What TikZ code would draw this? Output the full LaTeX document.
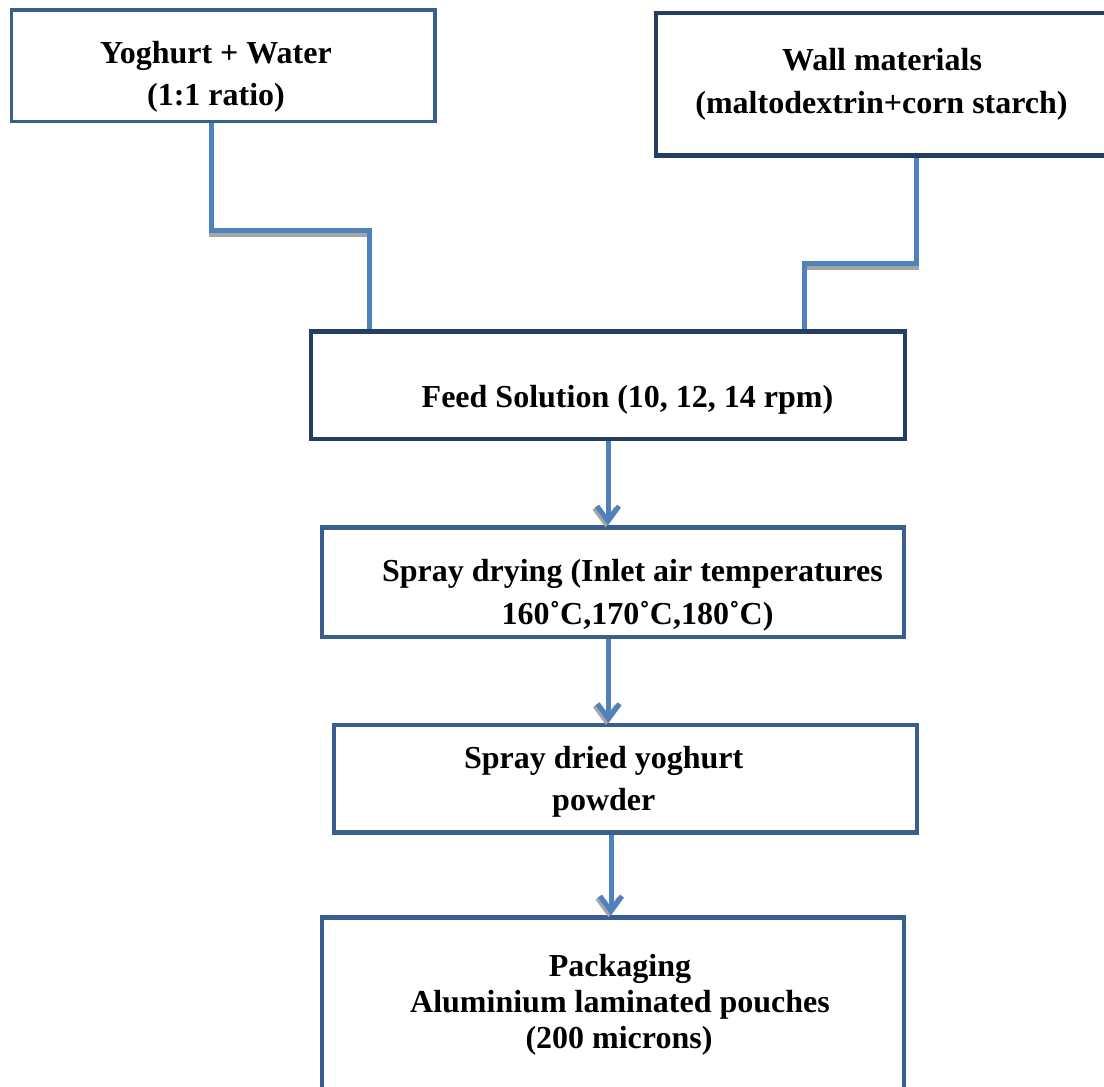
\documentclass[tikz,border=0pt]{standalone}
\usepackage{fontspec}
\setmainfont{Liberation Serif}
\usetikzlibrary{arrows.meta}
\definecolor{boxblue}{HTML}{3A5F8F}
\definecolor{navyblue}{HTML}{243F63}
\definecolor{linkblue}{HTML}{4F81BD}
\definecolor{shade}{HTML}{A5A5A5}
\begin{document}
\begin{tikzpicture}[x=1pt,y=-1pt,
  boxnode/.style={draw, rectangle, inner sep=0pt},
  txt/.style={anchor=base, inner sep=0pt, font=\bfseries\fontsize{32}{38}\selectfont},
  link/.style={draw=linkblue, line width=5pt},
  shadowline/.style={draw=shade, line width=4.3pt},
  arr/.style={link, -{Straight Barb[length=15pt,width=22pt]}},
  shadowarr/.style={draw=shade, line width=5pt, -{Straight Barb[length=15pt,width=22pt]}}]
\useasboundingbox (0,0) rectangle (1104,1087);
\clip (0,0) rectangle (1104,1087);
\fill[white] (0,0) rectangle (1104,1087);

% boxes
\node[boxnode, draw=boxblue, line width=3.3pt, minimum width=423.3pt, minimum height=111.7pt] (yw) at (223.3,65.8) {};
\node[boxnode, draw=navyblue, line width=4.8pt, minimum width=456pt, minimum height=142.5pt] (wall) at (884,84.25) {};
\node[boxnode, draw=navyblue, line width=4.6pt, minimum width=594.2pt, minimum height=107.3pt] (feed) at (607.9,385.3) {};
\node[boxnode, draw=boxblue, line width=4.4pt, minimum width=582.4pt, minimum height=109.3pt] (spray) at (613,582.2) {};
\node[boxnode, draw=boxblue, line width=4.4pt, minimum width=582.6pt, minimum height=107.3pt] (powder) at (625.5,778.8) {};
\node[boxnode, draw=boxblue, line width=4.4pt, minimum width=582.2pt, minimum height=182.5pt] (pack) at (613.1,1008.75) {};

% texts
\node[txt] (yw1) at (216,63.3) {Yoghurt + Water};
\node[txt] (yw2) at (216,105) {(1:1 ratio)};
\node[txt] (wall1) at (882,70.7) {Wall materials};
\node[txt] (wall2) at (881.5,113.3) {(maltodextrin+corn starch)};
\node[txt] (feed1) at (627.5,407.3) {Feed Solution (10, 12, 14 rpm)};
\node[txt] (spray1) at (632.4,581.7) {Spray drying (Inlet air temperatures};
\node[txt] (spray2) at (637.5,624) {160˚C,170˚C,180˚C)};
\node[txt] (powder1) at (603.7,768.3) {Spray dried yoghurt};
\node[txt] (powder2) at (603.8,810) {powder};
\node[txt] (pack1) at (620,976.7) {Packaging};
\node[txt] (pack2) at (620,1012.7) {Aluminium laminated pouches};
\node[txt] (pack3) at (619,1048.3) {(200 microns)};

% elbow connectors
\coordinate (c1a) at (211,230);
\coordinate (c1b) at (369,230);
\coordinate (c2a) at (916.7,263.3);
\coordinate (c2b) at (804,263.3);
\draw[shadowline] ([xshift=-2.5pt,yshift=-4.5pt]c1a) -- ([xshift=-2.5pt,yshift=-4.5pt]c1b);
\draw[link] (yw.south -| c1a) -- (c1a) -- (c1b) -- (c1b |- feed.north);
\draw[shadowline] ([xshift=2pt,yshift=-4.5pt]c2b) -- ([xshift=2.6pt,yshift=-4.5pt]c2a);
\draw[link] (wall.south -| c2a) -- (c2a) -- (c2b) -- (c2b |- feed.north);

% straight arrows
\coordinate (ax1) at (608,0);
\coordinate (ax2) at (608.5,0);
\coordinate (ax3) at (611,0);
\coordinate (e1) at (spray.north -| ax1);
\coordinate (e2) at (powder.north -| ax2);
\coordinate (e3) at (pack.north -| ax3);
\draw[shadowarr] ([xshift=-2.5pt,yshift=6pt]e1) -- ([xshift=-2.5pt,yshift=-2pt]e1);
\draw[shadowarr] ([xshift=-2.5pt,yshift=6pt]e2) -- ([xshift=-2.5pt,yshift=-2pt]e2);
\draw[shadowarr] ([xshift=-2.5pt,yshift=6pt]e3) -- ([xshift=-2.5pt,yshift=-2pt]e3);
\draw[arr] (feed.south -| ax1) -- (e1);
\draw[arr] (spray.south -| ax2) -- (e2);
\draw[arr] (powder.south -| ax3) -- (e3);
\end{tikzpicture}
\end{document}
